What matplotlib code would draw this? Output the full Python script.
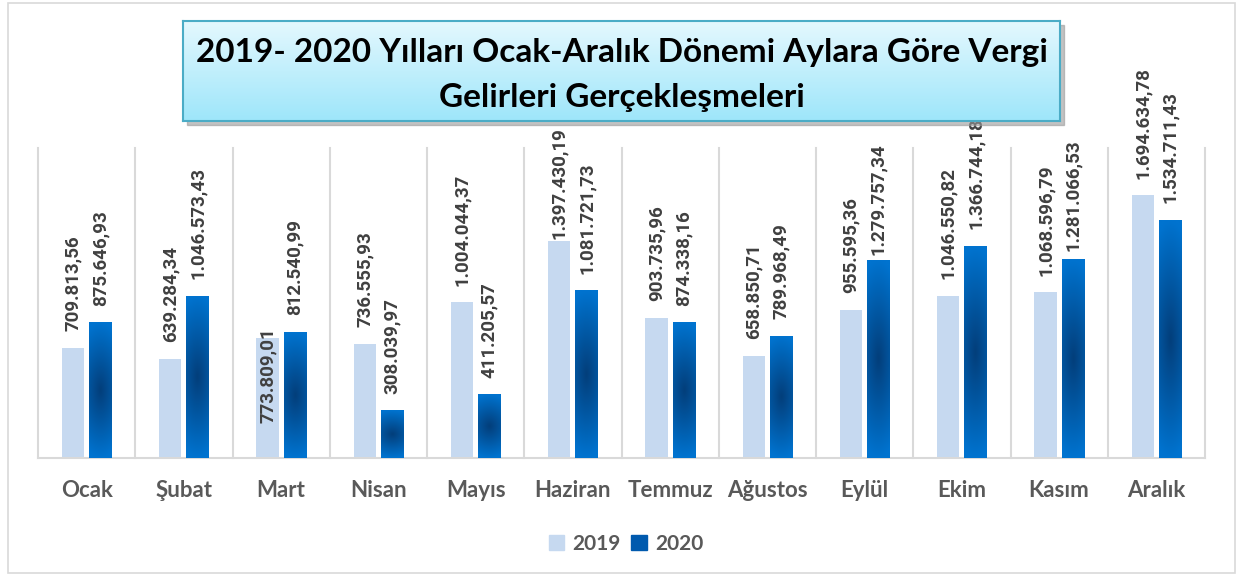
import numpy as np
import matplotlib.pyplot as plt
from matplotlib.patches import Rectangle, Patch

months = ['Ocak', 'Şubat', 'Mart', 'Nisan', 'Mayıs', 'Haziran', 'Temmuz',
          'Ağustos', 'Eylül', 'Ekim', 'Kasım', 'Aralık']
v2019 = [709813.56, 639284.34, 773809.01, 736555.93, 1004044.37, 1397430.19,
         903735.96, 658850.71, 955595.36, 1046550.82, 1068596.79, 1694634.78]
v2020 = [875646.93, 1046573.43, 812540.99, 308039.97, 411205.57, 1081721.73,
         874338.16, 789968.49, 1279757.34, 1366744.18, 1281066.53, 1534711.43]
title = '2019- 2020 Yılları Ocak-Aralık Dönemi Aylara Göre Vergi\nGelirleri Gerçekleşmeleri'

plt.rcParams['font.family'] = ['Lato', 'DejaVu Sans']

c19 = '#C6D9F0'
edge_blue = np.array([0, 115, 207]) / 255.
dark_blue = np.array([3, 62, 122]) / 255.
lab_col = '#404040'
grid_col = '#D9D9D9'


def tr_fmt(v):
    s = '{:,.2f}'.format(v)
    return s.replace(',', 'X').replace('.', ',').replace('X', '.')


def grad_img(n=120, m=20):
    # path gradient: dark in the middle, bright blue toward the edges
    u = np.linspace(-1, 1, m)
    v = np.linspace(-1, 1, n)
    U, V = np.meshgrid(u, v)
    t = np.clip(np.sqrt(V ** 2 + (0.4 * U) ** 2), 0, 1)
    return dark_blue[None, None, :] * (1 - t[..., None]) + edge_blue[None, None, :] * t[..., None]


W, H = 1239, 576
fig = plt.figure(figsize=(W / 100, H / 100), dpi=100)
fig.patches.append(Rectangle((8 / W, 3 / H), 1227 / W, 570 / H, transform=fig.transFigure,
                             fill=False, edgecolor=grid_col, lw=1.2))

ax = fig.add_axes([38 / W, (H - 458) / H, (1205 - 38) / W, (458 - 148) / H])
x = np.arange(len(months))
bw = 0.23
off = 0.14

ax.bar(x - off, v2019, bw, color=c19, zorder=2)
bars20 = ax.bar(x + off, v2020, bw, color=edge_blue, zorder=2)
img = grad_img()
for b in bars20:
    x0, y0 = b.get_x(), b.get_y()
    im = ax.imshow(img, extent=[x0, x0 + b.get_width(), y0, y0 + b.get_height()],
                   aspect='auto', origin='lower', zorder=3, interpolation='bilinear')
    im.set_clip_path(b)

ax.set_xlim(-0.5, len(months) - 0.5)
ax.set_ylim(0, 2000000)

for k in range(len(months) + 1):
    ax.axvline(k - 0.5, color=grid_col, lw=1.5, zorder=1, clip_on=False)

# gap between bar top and label, in points (a few labels sit closer)
gap = 12
near = {(5, 0): 2, (8, 1): 3, (10, 1): 6}
lab_kw = dict(textcoords='offset points', rotation=90, ha='center', fontsize=13.5,
              family=['Roboto', 'DejaVu Sans'], fontweight='bold', color=lab_col,
              annotation_clip=False, zorder=4)

for i in range(len(months)):
    for j, (vals, dx) in enumerate([(v2019, -off), (v2020, off)]):
        if (i, j) == (2, 0):
            # Mart 2019 label sits inside the bar
            ax.annotate(tr_fmt(vals[i]), (x[i] + dx, vals[i]), xytext=(0, 8),
                        va='top', **lab_kw)
            continue
        ax.annotate(tr_fmt(vals[i]), (x[i] + dx, vals[i]), xytext=(0, near.get((i, j), gap)),
                    va='bottom', **lab_kw)

ax.set_xticks(x)
ax.set_xticklabels(months, fontsize=16, fontweight='bold', color='#595959')
ax.tick_params(axis='x', length=0, pad=16)
ax.set_yticks([])
for s in ['left', 'right', 'top']:
    ax.spines[s].set_visible(False)
ax.spines['bottom'].set_color(grid_col)
ax.spines['bottom'].set_linewidth(1.5)

handles = [Patch(color=c19, label='2019'), Patch(color='#005AAE', label='2020')]
fig.legend(handles=handles, loc='center', bbox_to_anchor=(626 / W, (H - 544) / H), ncol=2,
           frameon=False, handlelength=0.75, handleheight=0.75, handletextpad=0.4,
           columnspacing=0.5, prop={'weight': 'bold', 'size': 15}, labelcolor='#595959')

# title box with shadow
bx0, by0, bx1, by1 = 183, 21, 1060, 121
fig.patches.append(Rectangle(((bx0 + 4) / W, (H - by1 - 4) / H), (bx1 - bx0) / W, (by1 - by0) / H,
                             transform=fig.transFigure, color='#9A9A9A', alpha=0.6, zorder=5))
tax = fig.add_axes([bx0 / W, (H - by1) / H, (bx1 - bx0) / W, (by1 - by0) / H], zorder=10)
top_c = np.array([228, 248, 254]) / 255.
bot_c = np.array([158, 230, 250]) / 255.
tt = np.linspace(0, 1, 100)[:, None]
tax.imshow((top_c * (1 - tt) + bot_c * tt)[:, None, :], extent=[0, 1, 0, 1],
           aspect='auto', origin='upper')
tax.set_xlim(0, 1)
tax.set_ylim(0, 1)
tax.set_xticks([])
tax.set_yticks([])
for s in tax.spines.values():
    s.set_color('#4BACC6')
    s.set_linewidth(1.5)
tax.text(0.5, 0.46, title, ha='center', va='center', fontsize=24, fontweight='bold',
         color='black', linespacing=1.7)

fig.savefig('out.png', dpi=100)
